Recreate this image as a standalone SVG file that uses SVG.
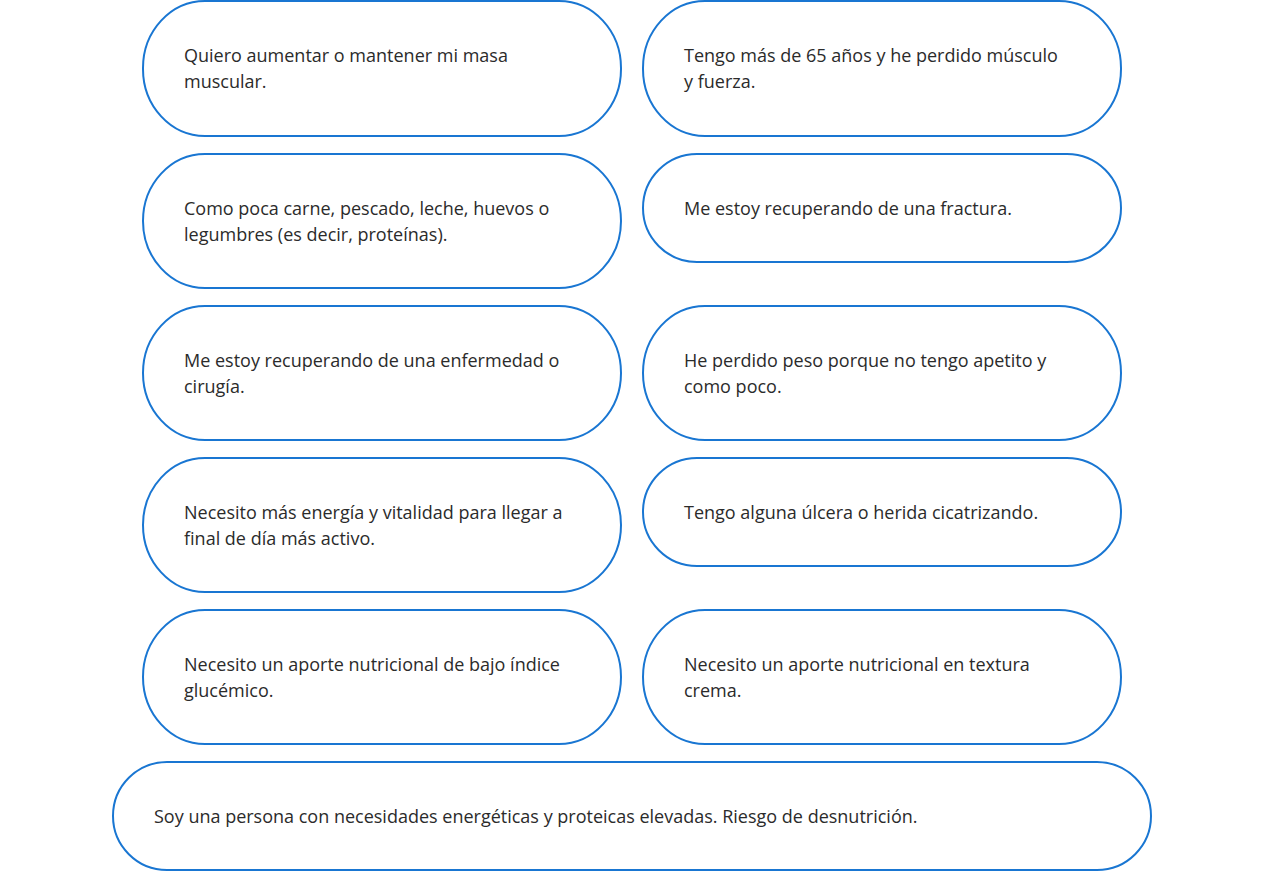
<svg xmlns="http://www.w3.org/2000/svg" width="1264" height="871" viewBox="0 0 1264 871">
<style>
.pill{fill:#ffffff;stroke:#1976d2;stroke-width:2}
.t{font-family:"Open Sans","Noto Sans","Liberation Sans",sans-serif;font-size:18px;fill:#2b2b2b}
</style>
<rect x="0" y="0" width="1264" height="871" fill="#ffffff"/>
<g id="n1"><rect class="pill" x="143" y="1" width="478" height="135" rx="62" ry="67"/><text class="t" x="184" y="62">Quiero aumentar o mantener mi masa</text><text class="t" x="184" y="88">muscular.</text></g>
<g id="n2"><rect class="pill" x="643" y="1" width="478" height="135" rx="62" ry="67"/><text class="t" x="684" y="62">Tengo más de 65 años y he perdido músculo</text><text class="t" x="684" y="88">y fuerza.</text></g>
<g id="n3"><rect class="pill" x="143" y="154" width="478" height="134" rx="62" ry="67"/><text class="t" x="184" y="215">Como poca carne, pescado, leche, huevos o</text><text class="t" x="184" y="241">legumbres (es decir, proteínas).</text></g>
<g id="n4"><rect class="pill" x="643" y="154" width="478" height="108" rx="54" ry="54"/><text class="t" x="684" y="215">Me estoy recuperando de una fractura.</text></g>
<g id="n5"><rect class="pill" x="143" y="306" width="478" height="134" rx="62" ry="67"/><text class="t" x="184" y="367">Me estoy recuperando de una enfermedad o</text><text class="t" x="184" y="393">cirugía.</text></g>
<g id="n6"><rect class="pill" x="643" y="306" width="478" height="134" rx="62" ry="67"/><text class="t" x="684" y="367">He perdido peso porque no tengo apetito y</text><text class="t" x="684" y="393">como poco.</text></g>
<g id="n7"><rect class="pill" x="143" y="458" width="478" height="134" rx="62" ry="67"/><text class="t" x="184" y="519">Necesito más energía y vitalidad para llegar a</text><text class="t" x="184" y="545">final de día más activo.</text></g>
<g id="n8"><rect class="pill" x="643" y="458" width="478" height="108" rx="54" ry="54"/><text class="t" x="684" y="519">Tengo alguna úlcera o herida cicatrizando.</text></g>
<g id="n9"><rect class="pill" x="143" y="610" width="478" height="134" rx="62" ry="67"/><text class="t" x="184" y="671">Necesito un aporte nutricional de bajo índice</text><text class="t" x="184" y="697">glucémico.</text></g>
<g id="n10"><rect class="pill" x="643" y="610" width="478" height="134" rx="62" ry="67"/><text class="t" x="684" y="671">Necesito un aporte nutricional en textura</text><text class="t" x="684" y="697">crema.</text></g>
<g id="n11"><rect class="pill" x="113" y="762" width="1038" height="108" rx="54" ry="54"/><text class="t" x="154" y="823">Soy una persona con necesidades energéticas y proteicas elevadas. Riesgo de desnutrición.</text></g>
<g id="connectors"></g>
</svg>
